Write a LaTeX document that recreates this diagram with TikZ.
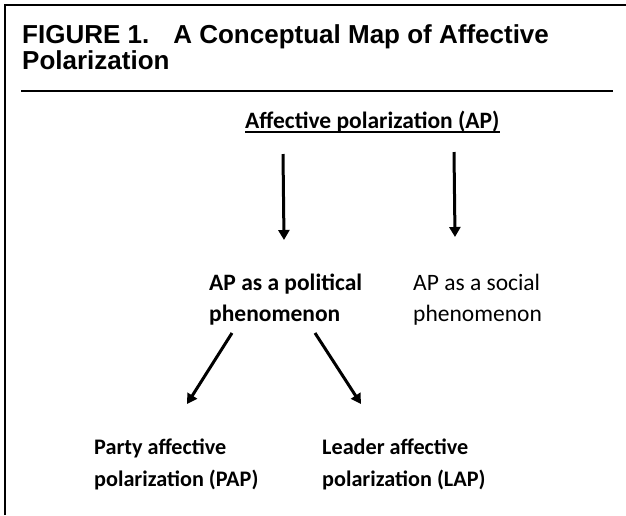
\documentclass[tikz,border=0pt]{standalone}
\usepackage{fontspec}
\setmainfont{Carlito}
\newfontfamily\titlefont{Liberation Sans}
\usetikzlibrary{arrows.meta}
\tikzset{
  frameline/.style={line width=2pt},
  lbl/.style={anchor=base west, inner sep=0pt, align=left, font=\fontsize{23.5}{31}\selectfont},
  blbl/.style={lbl, font=\bfseries\fontsize{23.5}{31}\selectfont},
  slbl/.style={lbl, font=\bfseries\fontsize{22.2}{32}\selectfont},
  ttl/.style={anchor=base west, inner sep=0pt, align=left, font=\titlefont\bfseries\fontsize{26}{22}\selectfont},
  arr/.style={line width=3pt, -{Triangle[width=11pt,length=10pt]}}
}
\begin{document}
\begin{tikzpicture}[x=1pt,y=-1pt]
\useasboundingbox (0,0) rectangle (626,515);
\draw[frameline] (5,515) -- (5,5) -- (626,5);
% base anchor of a two-line node is the baseline of its last line
\node[ttl] (title) at (22,69) {FIGURE 1.\hspace{24pt}A Conceptual Map of Affective\\Polarization};
\draw[frameline] (21,91) -- (613,91);
% nodes
\node[blbl] (ap) at (245,128) {Affective polarization (AP)};
\draw[line width=1.5pt] ([yshift=-4pt]ap.base west) -- ([yshift=-4pt]ap.base east);
\node[blbl] (pol) at (209,321) {AP as a political\\phenomenon};
\node[lbl] (soc) at (413,321) {AP as a social\\phenomenon};
\node[slbl] (pap) at (94,486) {Party affective\\polarization (PAP)};
\node[slbl] (lap) at (322,486) {Leader affective\\polarization (LAP)};
% connector ends
\coordinate (a1s) at (283,154);
\coordinate (a1e) at (284,240);
\coordinate (a2s) at (454,152);
\coordinate (a2e) at (455,237);
\coordinate (a3s) at (232,333);
\coordinate (a3e) at (187,404);
\coordinate (a4s) at (315,333);
\coordinate (a4e) at (361,404);
\draw[arr] (a1s) -- (a1e);
\draw[arr] (a2s) -- (a2e);
\draw[arr] (a3s) -- (a3e);
\draw[arr] (a4s) -- (a4e);
\end{tikzpicture}
\end{document}
